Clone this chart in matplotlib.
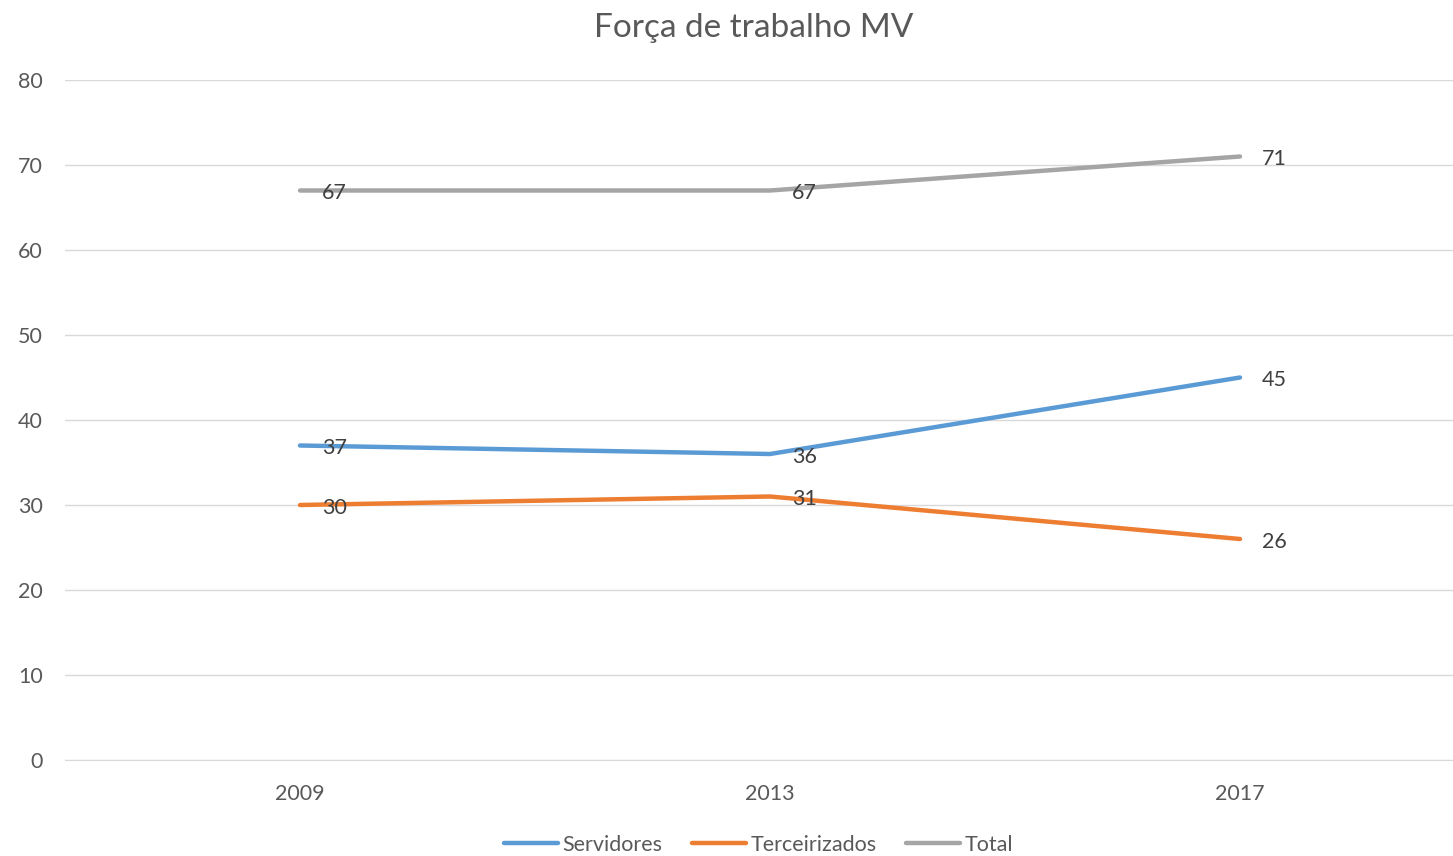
import matplotlib.pyplot as plt

plt.rcParams['font.family'] = ['Lato', 'DejaVu Sans']

years = ['2009', '2013', '2017']
servidores = [37, 36, 45]
terceirizados = [30, 31, 26]
total = [67, 67, 71]

series = [
    ('Servidores', servidores, '#5b9bd5'),
    ('Terceirizados', terceirizados, '#ed7d31'),
    ('Total', total, '#a5a5a5'),
]

fig = plt.figure(figsize=(14.53, 8.56), dpi=100)
ax = fig.add_axes([65 / 1453, 1 - 760 / 856, 1410 / 1453, 680 / 856])

x = list(range(len(years)))
for name, vals, color in series:
    ax.plot(x, vals, color=color, lw=3.2, label=name, solid_capstyle='round')
    for xi, v in zip(x, vals):
        ax.annotate(str(v), (xi, v), xytext=(16, -2), textcoords='offset points',
                    va='center', ha='left', fontsize=15.5, color='#404040')

ax.set_xlim(-0.5, 2.5)
ax.set_ylim(0, 80)
ax.set_yticks(range(0, 81, 10))
ax.set_xticks(x)
ax.set_xticklabels(years)
ax.grid(axis='y', color='#d9d9d9', lw=1)
ax.set_axisbelow(True)
for s in ['top', 'right', 'left']:
    ax.spines[s].set_visible(False)
ax.spines['bottom'].set_color('#d9d9d9')
ax.tick_params(length=0, labelsize=15.5, colors='#595959')
ax.tick_params(axis='x', pad=17)
ax.tick_params(axis='y', pad=16)

fig.text(0.519, 1 - 28 / 856, 'Força de trabalho MV', ha='center', va='center',
         fontsize=24, color='#595959')

fig.legend(loc='center', bbox_to_anchor=(0.522, 1 - 845 / 856), ncol=3, frameon=False,
           fontsize=15.5, handlelength=2.5, handletextpad=0.2, columnspacing=1.4,
           labelcolor='#595959')

fig.savefig('out.png', dpi=100)
